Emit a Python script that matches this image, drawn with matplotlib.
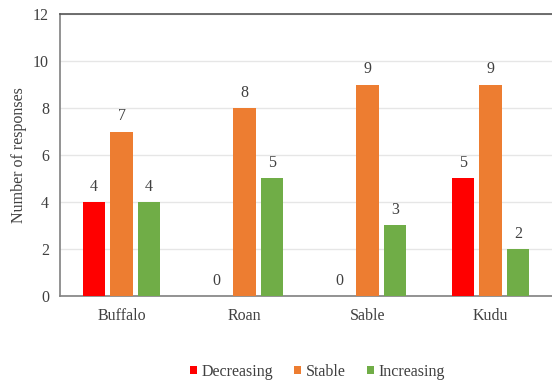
import numpy as np
import matplotlib.pyplot as plt

plt.rcParams['font.family'] = ['Liberation Serif', 'DejaVu Serif']

species = ['Buffalo', 'Roan', 'Sable', 'Kudu']
decreasing = [4, 0, 0, 5]
stable = [7, 8, 9, 9]
increasing = [4, 5, 3, 2]

series = [('Decreasing', decreasing, '#ff0000'),
          ('Stable', stable, '#ed7d31'),
          ('Increasing', increasing, '#70ad47')]

fig = plt.figure(figsize=(5.52, 3.85), dpi=100)
ax = fig.add_axes([0.1087, 0.2312, 0.8913, 0.7324])

fs = 11.5
x = np.arange(len(species))
width = 0.18
step = 0.225
for i, (name, vals, col) in enumerate(series):
    pos = x + (i - 1) * step
    ax.bar(pos, vals, width, color=col, label=name, zorder=3)
    for p, v in zip(pos, vals):
        ax.text(p, v + 0.3, str(v), ha='center', va='bottom', fontsize=fs, color='#404040')

ax.set_xlim(-0.5, 3.5)
ax.set_ylim(0, 12)
ax.set_yticks(range(0, 13, 2))
ax.set_xticks(x)
ax.set_xticklabels(species)
ax.yaxis.grid(True, color='#e6e6e6', linewidth=1, zorder=0)
ax.tick_params(length=0, labelsize=fs, colors='#404040', pad=8)
ax.tick_params(axis='x', pad=9)
ax.set_ylabel('Number of responses', fontsize=fs, color='#404040', labelpad=4)

ax.spines['right'].set_visible(False)
ax.spines['top'].set_color('#555555')
ax.spines['left'].set_color('#808080')
ax.spines['bottom'].set_color('#808080')
for s in ax.spines.values():
    s.set_linewidth(1.2)

fig.legend(loc='center', bbox_to_anchor=(0.575, 0.035), ncol=3, frameon=False,
           fontsize=fs, handlelength=0.45, handleheight=0.45, handletextpad=0.3,
           columnspacing=1.3, labelcolor='#404040')

fig.savefig('out.png', dpi=100)
